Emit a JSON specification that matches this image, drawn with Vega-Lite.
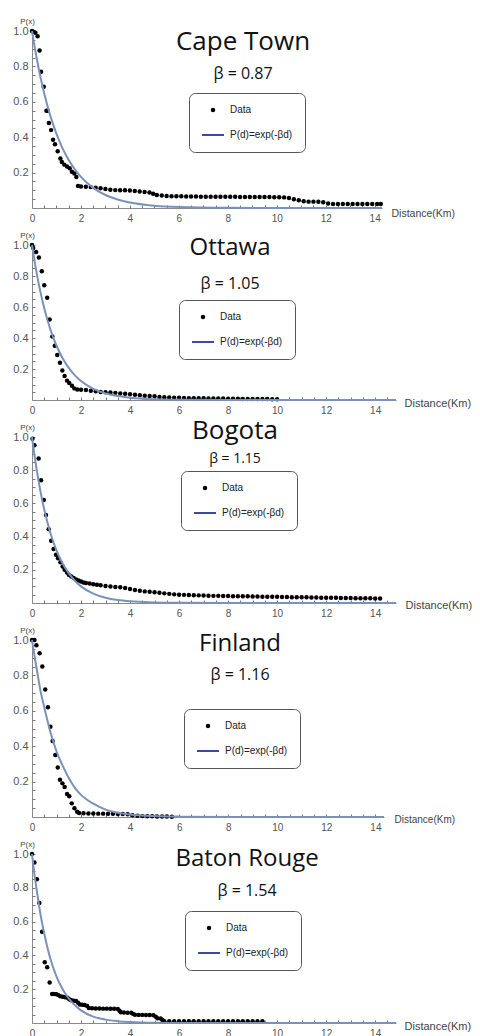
{
"$schema": "https://vega.github.io/schema/vega-lite/v6.json",
"padding": {"left": 12, "top": 17, "right": 2, "bottom": 2},
"spacing": 37,
"bounds": "flush",
"resolve": {"scale": {"x": "independent", "y": "independent", "shape": "independent", "size": "independent", "strokeWidth": "independent", "stroke": "independent"}, "legend": {"shape": "independent", "size": "independent", "strokeWidth": "independent", "stroke": "independent"}},
"datasets": {
"ct_pts": [{"d":0,"p":1.0},{"d":0.07,"p":0.995},{"d":0.14,"p":0.99},{"d":0.23,"p":0.97},{"d":0.31,"p":0.89},{"d":0.37,"p":0.77},{"d":0.48,"p":0.685},{"d":0.59,"p":0.55},{"d":0.64,"p":0.55},{"d":0.69,"p":0.48},{"d":0.78,"p":0.44},{"d":0.86,"p":0.385},{"d":0.94,"p":0.36},{"d":1.05,"p":0.32},{"d":1.16,"p":0.28},{"d":1.22,"p":0.26},{"d":1.32,"p":0.245},{"d":1.43,"p":0.235},{"d":1.54,"p":0.225},{"d":1.63,"p":0.205},{"d":1.73,"p":0.195},{"d":1.81,"p":0.175},{"d":1.88,"p":0.125},
{"d":2.0,"p":0.122},{"d":2.2,"p":0.12},{"d":2.4,"p":0.118},{"d":2.6,"p":0.115},{"d":2.8,"p":0.111},{"d":3.0,"p":0.107},{"d":3.2,"p":0.103},{"d":3.4,"p":0.101},{"d":3.6,"p":0.1},{"d":3.8,"p":0.1},{"d":4.0,"p":0.099},{"d":4.2,"p":0.096},{"d":4.4,"p":0.093},{"d":4.6,"p":0.091},{"d":4.8,"p":0.088},{"d":4.95,"p":0.08},{"d":5.1,"p":0.073},{"d":5.3,"p":0.07},{"d":5.5,"p":0.068},{"d":5.7,"p":0.067},{"d":5.9,"p":0.066},{"d":6.1,"p":0.066},{"d":6.3,"p":0.065},{"d":6.5,"p":0.065},{"d":6.7,"p":0.065},{"d":6.9,"p":0.064},{"d":7.1,"p":0.064},{"d":7.3,"p":0.064},{"d":7.5,"p":0.064},{"d":7.7,"p":0.063},{"d":7.9,"p":0.063},{"d":8.1,"p":0.063},{"d":8.3,"p":0.063},{"d":8.5,"p":0.062},{"d":8.7,"p":0.062},{"d":8.9,"p":0.062},{"d":9.1,"p":0.062},{"d":9.3,"p":0.062},{"d":9.5,"p":0.062},{"d":9.7,"p":0.062},{"d":9.9,"p":0.061},{"d":10.1,"p":0.061},{"d":10.3,"p":0.06},{"d":10.5,"p":0.056},{"d":10.7,"p":0.05},{"d":10.9,"p":0.044},{"d":11.1,"p":0.038},{"d":11.3,"p":0.036},{"d":11.5,"p":0.036},{"d":11.7,"p":0.035},{"d":11.9,"p":0.033},{"d":12.1,"p":0.025},{"d":12.3,"p":0.023},{"d":12.5,"p":0.023},{"d":12.7,"p":0.023},{"d":12.9,"p":0.023},{"d":13.1,"p":0.023},{"d":13.3,"p":0.023},{"d":13.5,"p":0.023},{"d":13.7,"p":0.023},{"d":13.9,"p":0.023},{"d":14.1,"p":0.023},{"d":14.25,"p":0.023}],
"ct_fit": [{"d":0,"p":1},{"d":0.1,"p":0.9167},{"d":0.2,"p":0.8403},{"d":0.35,"p":0.7375},{"d":0.5,"p":0.6473},{"d":0.75,"p":0.5207},{"d":1,"p":0.419},{"d":1.25,"p":0.3371},{"d":1.5,"p":0.2712},{"d":1.75,"p":0.2182},{"d":2,"p":0.1755},{"d":2.5,"p":0.1136},{"d":3,"p":0.0735},{"d":3.5,"p":0.0476},{"d":4,"p":0.0308},{"d":5,"p":0.0129},{"d":6,"p":0.0054},{"d":8,"p":0.0009},{"d":10,"p":0.0002},{"d":14.3,"p":0}],
"ot_pts": [{"d":0,"p":1.0},{"d":0.05,"p":0.98},{"d":0.17,"p":0.955},{"d":0.28,"p":0.92},{"d":0.4,"p":0.83},{"d":0.5,"p":0.74},{"d":0.62,"p":0.66},{"d":0.72,"p":0.52},{"d":0.83,"p":0.41},{"d":0.93,"p":0.35},{"d":1.03,"p":0.29},{"d":1.14,"p":0.24},{"d":1.24,"p":0.19},{"d":1.33,"p":0.155},{"d":1.43,"p":0.125},{"d":1.52,"p":0.11},{"d":1.63,"p":0.092},{"d":1.73,"p":0.075},
{"d":1.85,"p":0.068},{"d":2.0,"p":0.066},{"d":2.2,"p":0.064},{"d":2.4,"p":0.06},{"d":2.6,"p":0.056},{"d":2.8,"p":0.052},{"d":3.0,"p":0.05},{"d":3.2,"p":0.048},{"d":3.4,"p":0.046},{"d":3.6,"p":0.042},{"d":3.8,"p":0.04},{"d":4.0,"p":0.037},{"d":4.2,"p":0.034},{"d":4.4,"p":0.03},{"d":4.6,"p":0.028},{"d":4.8,"p":0.026},{"d":5.0,"p":0.024},{"d":5.2,"p":0.02},{"d":5.4,"p":0.018},{"d":5.6,"p":0.016},{"d":5.8,"p":0.015},{"d":6.0,"p":0.014},{"d":6.2,"p":0.013},{"d":6.4,"p":0.012},{"d":6.6,"p":0.012},{"d":6.8,"p":0.011},{"d":7.0,"p":0.011},{"d":7.2,"p":0.01},{"d":7.4,"p":0.01},{"d":7.6,"p":0.009},{"d":7.8,"p":0.009},{"d":8.0,"p":0.008},{"d":8.2,"p":0.008},{"d":8.4,"p":0.008},{"d":8.6,"p":0.007},{"d":8.8,"p":0.007},{"d":9.0,"p":0.007},{"d":9.2,"p":0.006},{"d":9.4,"p":0.006},{"d":9.6,"p":0.006},{"d":9.8,"p":0.005},{"d":10.0,"p":0.005}],
"ot_fit": [{"d":0,"p":1},{"d":0.1,"p":0.9003},{"d":0.2,"p":0.8106},{"d":0.35,"p":0.6925},{"d":0.5,"p":0.5916},{"d":0.75,"p":0.455},{"d":1,"p":0.3499},{"d":1.25,"p":0.2691},{"d":1.5,"p":0.207},{"d":1.75,"p":0.1592},{"d":2,"p":0.1225},{"d":2.5,"p":0.0724},{"d":3,"p":0.0429},{"d":3.5,"p":0.0253},{"d":4,"p":0.015},{"d":5,"p":0.0052},{"d":6,"p":0.0018},{"d":8,"p":0.0002},{"d":14.85,"p":0}],
"bo_pts": [{"d":0.02,"p":0.99},{"d":0.1,"p":0.95},{"d":0.27,"p":0.87},{"d":0.37,"p":0.74},{"d":0.48,"p":0.62},{"d":0.57,"p":0.53},{"d":0.68,"p":0.445},{"d":0.78,"p":0.375},{"d":0.88,"p":0.325},{"d":0.98,"p":0.29},{"d":1.06,"p":0.27},{"d":1.16,"p":0.245},{"d":1.25,"p":0.22},{"d":1.33,"p":0.2},{"d":1.43,"p":0.183},
{"d":1.5,"p":0.17},{"d":1.6,"p":0.16},{"d":1.7,"p":0.15},{"d":1.8,"p":0.142},{"d":1.9,"p":0.135},{"d":2.0,"p":0.13},{"d":2.1,"p":0.124},{"d":2.2,"p":0.12},{"d":2.35,"p":0.117},{"d":2.5,"p":0.113},{"d":2.65,"p":0.11},{"d":2.8,"p":0.107},{"d":3.0,"p":0.102},{"d":3.2,"p":0.099},{"d":3.4,"p":0.097},{"d":3.6,"p":0.095},{"d":3.8,"p":0.09},{"d":4.0,"p":0.085},{"d":4.2,"p":0.078},{"d":4.4,"p":0.074},{"d":4.6,"p":0.07},{"d":4.8,"p":0.068},{"d":5.0,"p":0.065},{"d":5.2,"p":0.062},{"d":5.4,"p":0.058},{"d":5.6,"p":0.055},{"d":5.8,"p":0.052},{"d":6.0,"p":0.05},{"d":6.2,"p":0.049},{"d":6.4,"p":0.048},{"d":6.6,"p":0.047},{"d":6.8,"p":0.046},{"d":7.0,"p":0.045},{"d":7.2,"p":0.044},{"d":7.4,"p":0.043},{"d":7.6,"p":0.043},{"d":7.8,"p":0.042},{"d":8.0,"p":0.042},{"d":8.2,"p":0.041},{"d":8.4,"p":0.041},{"d":8.6,"p":0.04},{"d":8.8,"p":0.04},{"d":9.0,"p":0.039},{"d":9.2,"p":0.039},{"d":9.4,"p":0.038},{"d":9.6,"p":0.038},{"d":9.8,"p":0.037},{"d":10.0,"p":0.037},{"d":10.2,"p":0.036},{"d":10.4,"p":0.036},{"d":10.6,"p":0.035},{"d":10.8,"p":0.035},{"d":11.0,"p":0.034},{"d":11.2,"p":0.034},{"d":11.4,"p":0.033},{"d":11.6,"p":0.033},{"d":11.8,"p":0.032},{"d":12.0,"p":0.032},{"d":12.2,"p":0.031},{"d":12.4,"p":0.031},{"d":12.6,"p":0.03},{"d":12.8,"p":0.03},{"d":13.0,"p":0.03},{"d":13.2,"p":0.029},{"d":13.4,"p":0.029},{"d":13.6,"p":0.028},{"d":13.8,"p":0.028},{"d":14.0,"p":0.027},{"d":14.2,"p":0.027}],
"bo_fit": [{"d":0,"p":1},{"d":0.1,"p":0.8914},{"d":0.2,"p":0.7945},{"d":0.35,"p":0.6687},{"d":0.5,"p":0.5627},{"d":0.75,"p":0.4221},{"d":1,"p":0.3166},{"d":1.25,"p":0.2375},{"d":1.5,"p":0.1782},{"d":1.75,"p":0.1336},{"d":2,"p":0.1003},{"d":2.5,"p":0.0564},{"d":3,"p":0.0317},{"d":3.5,"p":0.0179},{"d":4,"p":0.0101},{"d":5,"p":0.0032},{"d":6,"p":0.001},{"d":8,"p":0.0001},{"d":14.85,"p":0}],
"fi_pts": [{"d":0,"p":1.0},{"d":0.1,"p":1.0},{"d":0.18,"p":0.97},{"d":0.31,"p":0.925},{"d":0.42,"p":0.85},{"d":0.54,"p":0.72},{"d":0.65,"p":0.62},{"d":0.75,"p":0.51},{"d":0.84,"p":0.43},{"d":0.95,"p":0.35},{"d":1.05,"p":0.28},{"d":1.14,"p":0.21},{"d":1.24,"p":0.19},{"d":1.33,"p":0.17},{"d":1.43,"p":0.13},{"d":1.52,"p":0.117},{"d":1.62,"p":0.077},{"d":1.73,"p":0.05},{"d":1.84,"p":0.03},
{"d":1.92,"p":0.022},{"d":2.1,"p":0.021},{"d":2.3,"p":0.02},{"d":2.5,"p":0.02},{"d":2.7,"p":0.019},{"d":2.9,"p":0.019},{"d":3.1,"p":0.018},{"d":3.3,"p":0.018},{"d":3.5,"p":0.017},{"d":3.7,"p":0.017},{"d":3.9,"p":0.015},{"d":4.1,"p":0.01},{"d":4.3,"p":0.007},{"d":4.5,"p":0.005},{"d":4.7,"p":0.004},{"d":4.9,"p":0.004},{"d":5.1,"p":0.003},{"d":5.3,"p":0.003},{"d":5.5,"p":0.003},{"d":5.7,"p":0.002}],
"fi_fit": [{"d":0,"p":1},{"d":0.1,"p":0.91},{"d":0.2,"p":0.83},{"d":0.35,"p":0.71},{"d":0.5,"p":0.62},{"d":0.75,"p":0.48},{"d":1,"p":0.37},{"d":1.25,"p":0.29},{"d":1.5,"p":0.22},{"d":1.75,"p":0.165},{"d":2,"p":0.125},{"d":2.5,"p":0.075},{"d":3,"p":0.042},{"d":3.5,"p":0.024},{"d":4,"p":0.014},{"d":5,"p":0.005},{"d":6,"p":0.002},{"d":8,"p":0.0003},{"d":14.35,"p":0}],
"br_pts": [{"d":0,"p":1.0},{"d":0.1,"p":0.95},{"d":0.2,"p":0.85},{"d":0.3,"p":0.71},{"d":0.41,"p":0.54},{"d":0.52,"p":0.36},{"d":0.62,"p":0.33},{"d":0.72,"p":0.24},{"d":0.82,"p":0.172},
{"d":0.9,"p":0.172},{"d":1.0,"p":0.17},{"d":1.08,"p":0.165},{"d":1.15,"p":0.158},{"d":1.25,"p":0.155},{"d":1.35,"p":0.152},{"d":1.45,"p":0.15},{"d":1.52,"p":0.14},{"d":1.6,"p":0.134},{"d":1.7,"p":0.132},{"d":1.8,"p":0.13},{"d":1.88,"p":0.12},{"d":1.95,"p":0.11},{"d":2.05,"p":0.108},{"d":2.15,"p":0.107},{"d":2.25,"p":0.1},{"d":2.32,"p":0.089},{"d":2.45,"p":0.087},{"d":2.6,"p":0.086},{"d":2.75,"p":0.086},{"d":2.9,"p":0.085},{"d":3.05,"p":0.085},{"d":3.2,"p":0.084},{"d":3.35,"p":0.084},{"d":3.5,"p":0.083},{"d":3.57,"p":0.073},{"d":3.62,"p":0.063},{"d":3.75,"p":0.062},{"d":3.9,"p":0.061},{"d":4.05,"p":0.06},{"d":4.12,"p":0.054},{"d":4.2,"p":0.049},{"d":4.35,"p":0.048},{"d":4.5,"p":0.048},{"d":4.65,"p":0.047},{"d":4.8,"p":0.047},{"d":4.95,"p":0.046},{"d":5.05,"p":0.037},{"d":5.12,"p":0.028},{"d":5.25,"p":0.026},{"d":5.32,"p":0.018},{"d":5.4,"p":0.011},{"d":5.6,"p":0.01},{"d":5.8,"p":0.01},{"d":6.0,"p":0.01},{"d":6.2,"p":0.01},{"d":6.4,"p":0.01},{"d":6.6,"p":0.01},{"d":6.8,"p":0.01},{"d":7.0,"p":0.01},{"d":7.2,"p":0.01},{"d":7.4,"p":0.01},{"d":7.6,"p":0.01},{"d":7.8,"p":0.01},{"d":8.0,"p":0.01},{"d":8.2,"p":0.01},{"d":8.4,"p":0.01},{"d":8.6,"p":0.01},{"d":8.8,"p":0.01},{"d":9.0,"p":0.01},{"d":9.2,"p":0.01},{"d":9.4,"p":0.01}],
"br_fit": [{"d":0,"p":1},{"d":0.1,"p":0.88},{"d":0.2,"p":0.78},{"d":0.35,"p":0.64},{"d":0.5,"p":0.53},{"d":0.75,"p":0.38},{"d":1,"p":0.275},{"d":1.25,"p":0.2},{"d":1.5,"p":0.145},{"d":1.75,"p":0.105},{"d":2,"p":0.075},{"d":2.5,"p":0.038},{"d":3,"p":0.02},{"d":3.5,"p":0.011},{"d":4,"p":0.006},{"d":5,"p":0.0015},{"d":6,"p":0.0004},{"d":8,"p":0},{"d":14.85,"p":0}]
},
"vconcat": [
{
 "width": 350, "height": 177,
 "title": {"text": "Cape Town", "subtitle": "β = 0.87", "offset": -65, "dx": 36, "fontSize": 26, "subtitleFontSize": 16, "subtitlePadding": 11},
 "resolve": {"axis": {"x": "independent", "y": "independent"}},
 "layer": [
  {"data": {"name": "ct_pts"}, "mark": {"type": "point", "filled": true, "color": "#000000", "opacity": 1},
   "encoding": {
    "x": {"field": "d", "type": "quantitative", "scale": {"domain": [0, 14.3], "nice": false, "zero": false}, "axis": {"orient": "bottom", "values": [0,2,4,6,8,10,12,14], "title": "Distance(Km)", "titleX": 359, "titleY": 5, "titleFontSize": 10.5}},
    "y": {"field": "p", "type": "quantitative", "scale": {"domain": [0, 1], "nice": false}, "axis": {"orient": "left", "values": [0.2,0.4,0.6,0.8,1.0], "format": ".1f", "title": "P(x)"}},
    "shape": {"datum": "Data", "scale": {"domain": ["Data", "P(d)=exp(-βd)"], "range": ["circle", "stroke"]}, "legend": {"title": null, "legendX": 157, "legendY": 62}},
    "size": {"datum": "Data", "scale": {"type": "point", "padding": 0, "domain": ["Data", "P(d)=exp(-βd)"], "range": [20, 484]}, "legend": {"title": null, "legendX": 157, "legendY": 62}},
    "strokeWidth": {"datum": "Data", "scale": {"type": "point", "padding": 0, "domain": ["Data", "P(d)=exp(-βd)"], "range": [0, 2]}, "legend": {"title": null, "legendX": 157, "legendY": 62}},
    "stroke": {"datum": "Data", "scale": {"domain": ["Data", "P(d)=exp(-βd)"], "range": ["#000000", "#3d4aa3"]}, "legend": {"title": null, "legendX": 157, "legendY": 62}}
   }},
  {"data": {"name": "ct_fit"}, "mark": {"type": "line", "strokeWidth": 2, "color": "#7a92ba", "interpolate": "monotone"},
   "encoding": {
    "x": {"field": "d", "type": "quantitative", "axis": {"orient": "bottom", "values": [0,0.5,1,1.5,2,2.5,3,3.5,4,4.5,5,5.5,6,6.5,7,7.5,8,8.5,9,9.5,10,10.5,11,11.5,12,12.5,13,13.5,14], "labels": false, "domain": false, "ticks": true, "tickSize": -3, "title": null}},
    "y": {"field": "p", "type": "quantitative", "axis": {"orient": "left", "values": [0.05,0.1,0.15,0.2,0.25,0.3,0.35,0.4,0.45,0.5,0.55,0.6,0.65,0.7,0.75,0.8,0.85,0.9,0.95,1.0], "labels": false, "domain": false, "ticks": true, "tickSize": -3, "title": null}}
   }}
 ]
},
{
 "width": 364, "height": 155,
 "title": {"text": "Ottawa", "subtitle": "β = 1.05", "offset": -61, "dx": 16, "fontSize": 24, "subtitleFontSize": 16, "subtitlePadding": 16},
 "resolve": {"axis": {"x": "independent", "y": "independent"}},
 "layer": [
  {"data": {"name": "ot_pts"}, "mark": {"type": "point", "filled": true, "color": "#000000", "opacity": 1},
   "encoding": {
    "x": {"field": "d", "type": "quantitative", "scale": {"domain": [0, 14.85], "nice": false, "zero": false}, "axis": {"orient": "bottom", "values": [0,2,4,6,8,10,12,14], "title": "Distance(Km)", "titleX": 372, "titleY": 3, "titleFontSize": 11}},
    "y": {"field": "p", "type": "quantitative", "scale": {"domain": [0, 1], "nice": false}, "axis": {"orient": "left", "values": [0.2,0.4,0.6,0.8,1.0], "format": ".1f", "title": "P(x)"}},
    "shape": {"datum": "Data", "scale": {"domain": ["Data", "P(d)=exp(-βd)"], "range": ["circle", "stroke"]}, "legend": {"title": null, "legendX": 147, "legendY": 55}},
    "size": {"datum": "Data", "scale": {"type": "point", "padding": 0, "domain": ["Data", "P(d)=exp(-βd)"], "range": [20, 484]}, "legend": {"title": null, "legendX": 147, "legendY": 55}},
    "strokeWidth": {"datum": "Data", "scale": {"type": "point", "padding": 0, "domain": ["Data", "P(d)=exp(-βd)"], "range": [0, 2]}, "legend": {"title": null, "legendX": 147, "legendY": 55}},
    "stroke": {"datum": "Data", "scale": {"domain": ["Data", "P(d)=exp(-βd)"], "range": ["#000000", "#3d4aa3"]}, "legend": {"title": null, "legendX": 147, "legendY": 55}}
   }},
  {"data": {"name": "ot_fit"}, "mark": {"type": "line", "strokeWidth": 2, "color": "#7a92ba", "interpolate": "monotone"},
   "encoding": {
    "x": {"field": "d", "type": "quantitative", "axis": {"orient": "bottom", "values": [0,0.5,1,1.5,2,2.5,3,3.5,4,4.5,5,5.5,6,6.5,7,7.5,8,8.5,9,9.5,10,10.5,11,11.5,12,12.5,13,13.5,14,14.5], "labels": false, "domain": false, "ticks": true, "tickSize": -3, "title": null}},
    "y": {"field": "p", "type": "quantitative", "axis": {"orient": "left", "values": [0.05,0.1,0.15,0.2,0.25,0.3,0.35,0.4,0.45,0.5,0.55,0.6,0.65,0.7,0.75,0.8,0.85,0.9,0.95,1.0], "labels": false, "domain": false, "ticks": true, "tickSize": -3, "title": null}}
   }}
 ]
},
{
 "width": 364, "height": 166,
 "title": {"text": "Bogota", "subtitle": "β = 1.15", "offset": -43, "dx": 21, "fontSize": 26, "subtitleFontSize": 14, "subtitlePadding": 8},
 "resolve": {"axis": {"x": "independent", "y": "independent"}},
 "layer": [
  {"data": {"name": "bo_pts"}, "mark": {"type": "point", "filled": true, "color": "#000000", "opacity": 1},
   "encoding": {
    "x": {"field": "d", "type": "quantitative", "scale": {"domain": [0, 14.85], "nice": false, "zero": false}, "axis": {"orient": "bottom", "values": [0,2,4,6,8,10,12,14], "title": "Distance(Km)", "titleX": 373, "titleY": 2, "titleFontSize": 11}},
    "y": {"field": "p", "type": "quantitative", "scale": {"domain": [0, 1], "nice": false}, "axis": {"orient": "left", "values": [0.2,0.4,0.6,0.8,1.0], "format": ".1f", "title": "P(x)"}},
    "shape": {"datum": "Data", "scale": {"domain": ["Data", "P(d)=exp(-βd)"], "range": ["circle", "stroke"]}, "legend": {"title": null, "legendX": 149, "legendY": 34}},
    "size": {"datum": "Data", "scale": {"type": "point", "padding": 0, "domain": ["Data", "P(d)=exp(-βd)"], "range": [20, 484]}, "legend": {"title": null, "legendX": 149, "legendY": 34}},
    "strokeWidth": {"datum": "Data", "scale": {"type": "point", "padding": 0, "domain": ["Data", "P(d)=exp(-βd)"], "range": [0, 2]}, "legend": {"title": null, "legendX": 149, "legendY": 34}},
    "stroke": {"datum": "Data", "scale": {"domain": ["Data", "P(d)=exp(-βd)"], "range": ["#000000", "#3d4aa3"]}, "legend": {"title": null, "legendX": 149, "legendY": 34}}
   }},
  {"data": {"name": "bo_fit"}, "mark": {"type": "line", "strokeWidth": 2, "color": "#7a92ba", "interpolate": "monotone"},
   "encoding": {
    "x": {"field": "d", "type": "quantitative", "axis": {"orient": "bottom", "values": [0,0.5,1,1.5,2,2.5,3,3.5,4,4.5,5,5.5,6,6.5,7,7.5,8,8.5,9,9.5,10,10.5,11,11.5,12,12.5,13,13.5,14,14.5], "labels": false, "domain": false, "ticks": true, "tickSize": -3, "title": null}},
    "y": {"field": "p", "type": "quantitative", "axis": {"orient": "left", "values": [0.05,0.1,0.15,0.2,0.25,0.3,0.35,0.4,0.45,0.5,0.55,0.6,0.65,0.7,0.75,0.8,0.85,0.9,0.95,1.0], "labels": false, "domain": false, "ticks": true, "tickSize": -3, "title": null}}
   }}
 ]
},
{
 "width": 352, "height": 177,
 "title": {"text": "Finland", "subtitle": "β = 1.16", "offset": -57, "dx": 32, "fontSize": 24, "subtitleFontSize": 16, "subtitlePadding": 11},
 "resolve": {"axis": {"x": "independent", "y": "independent"}},
 "layer": [
  {"data": {"name": "fi_pts"}, "mark": {"type": "point", "filled": true, "color": "#000000", "opacity": 1},
   "encoding": {
    "x": {"field": "d", "type": "quantitative", "scale": {"domain": [0, 14.35], "nice": false, "zero": false}, "axis": {"orient": "bottom", "values": [0,2,4,6,8,10,12,14], "title": "Distance(Km)", "titleX": 362, "titleY": 2, "titleFontSize": 10}},
    "y": {"field": "p", "type": "quantitative", "scale": {"domain": [0, 1], "nice": false}, "axis": {"orient": "left", "values": [0.2,0.4,0.6,0.8,1.0], "format": ".1f", "title": "P(x)"}},
    "shape": {"datum": "Data", "scale": {"domain": ["Data", "P(d)=exp(-βd)"], "range": ["circle", "stroke"]}, "legend": {"title": null, "legendX": 152, "legendY": 69}},
    "size": {"datum": "Data", "scale": {"type": "point", "padding": 0, "domain": ["Data", "P(d)=exp(-βd)"], "range": [20, 484]}, "legend": {"title": null, "legendX": 152, "legendY": 69}},
    "strokeWidth": {"datum": "Data", "scale": {"type": "point", "padding": 0, "domain": ["Data", "P(d)=exp(-βd)"], "range": [0, 2]}, "legend": {"title": null, "legendX": 152, "legendY": 69}},
    "stroke": {"datum": "Data", "scale": {"domain": ["Data", "P(d)=exp(-βd)"], "range": ["#000000", "#3d4aa3"]}, "legend": {"title": null, "legendX": 152, "legendY": 69}}
   }},
  {"data": {"name": "fi_fit"}, "mark": {"type": "line", "strokeWidth": 2, "color": "#7a92ba", "interpolate": "monotone"},
   "encoding": {
    "x": {"field": "d", "type": "quantitative", "axis": {"orient": "bottom", "values": [0,0.5,1,1.5,2,2.5,3,3.5,4,4.5,5,5.5,6,6.5,7,7.5,8,8.5,9,9.5,10,10.5,11,11.5,12,12.5,13,13.5,14], "labels": false, "domain": false, "ticks": true, "tickSize": -3, "title": null}},
    "y": {"field": "p", "type": "quantitative", "axis": {"orient": "left", "values": [0.05,0.1,0.15,0.2,0.25,0.3,0.35,0.4,0.45,0.5,0.55,0.6,0.65,0.7,0.75,0.8,0.85,0.9,0.95,1.0], "labels": false, "domain": false, "ticks": true, "tickSize": -3, "title": null}}
   }}
 ]
},
{
 "width": 364, "height": 169,
 "title": {"text": "Baton Rouge", "subtitle": "β = 1.54", "offset": -59, "dx": 33, "fontSize": 24, "subtitleFontSize": 16, "subtitlePadding": 12},
 "resolve": {"axis": {"x": "independent", "y": "independent"}},
 "layer": [
  {"data": {"name": "br_pts"}, "mark": {"type": "point", "filled": true, "color": "#000000", "opacity": 1},
   "encoding": {
    "x": {"field": "d", "type": "quantitative", "scale": {"domain": [0, 14.85], "nice": false, "zero": false}, "axis": {"orient": "bottom", "values": [0,2,4,6,8,10,12,14], "title": "Distance(Km)", "titleX": 372, "titleY": 3, "titleFontSize": 11}},
    "y": {"field": "p", "type": "quantitative", "scale": {"domain": [0, 1], "nice": false}, "axis": {"orient": "left", "values": [0.2,0.4,0.6,0.8,1.0], "format": ".1f", "title": "P(x)"}},
    "shape": {"datum": "Data", "scale": {"domain": ["Data", "P(d)=exp(-βd)"], "range": ["circle", "stroke"]}, "legend": {"title": null, "legendX": 153, "legendY": 57}},
    "size": {"datum": "Data", "scale": {"type": "point", "padding": 0, "domain": ["Data", "P(d)=exp(-βd)"], "range": [20, 484]}, "legend": {"title": null, "legendX": 153, "legendY": 57}},
    "strokeWidth": {"datum": "Data", "scale": {"type": "point", "padding": 0, "domain": ["Data", "P(d)=exp(-βd)"], "range": [0, 2]}, "legend": {"title": null, "legendX": 153, "legendY": 57}},
    "stroke": {"datum": "Data", "scale": {"domain": ["Data", "P(d)=exp(-βd)"], "range": ["#000000", "#3d4aa3"]}, "legend": {"title": null, "legendX": 153, "legendY": 57}}
   }},
  {"data": {"name": "br_fit"}, "mark": {"type": "line", "strokeWidth": 2, "color": "#7a92ba", "interpolate": "monotone"},
   "encoding": {
    "x": {"field": "d", "type": "quantitative", "axis": {"orient": "bottom", "values": [0,0.5,1,1.5,2,2.5,3,3.5,4,4.5,5,5.5,6,6.5,7,7.5,8,8.5,9,9.5,10,10.5,11,11.5,12,12.5,13,13.5,14,14.5], "labels": false, "domain": false, "ticks": true, "tickSize": -3, "title": null}},
    "y": {"field": "p", "type": "quantitative", "axis": {"orient": "left", "values": [0.05,0.1,0.15,0.2,0.25,0.3,0.35,0.4,0.45,0.5,0.55,0.6,0.65,0.7,0.75,0.8,0.85,0.9,0.95,1.0], "labels": false, "domain": false, "ticks": true, "tickSize": -3, "title": null}}
   }}
 ]
}
],
"config": {
 "view": {"stroke": null},
 "font": "Liberation Sans",
 "axis": {"grid": false, "domainColor": "#8a8a8a", "tickColor": "#777777", "labelColor": "#555555", "labelFont": "Liberation Sans", "titleFont": "Liberation Sans", "titleFontWeight": "normal", "titleColor": "#444444", "ticks": false, "tickSize": 0, "labelPadding": 4},
 "axisX": {"labelFontSize": 10, "titleAlign": "left", "titleBaseline": "middle", "titleAngle": 0, "labelFlush": false, "labelPadding": 5},
 "axisY": {"labelFontSize": 11, "titleAngle": 0, "titleAlign": "center", "titleBaseline": "alphabetic", "titleX": -5, "titleY": -8, "titleFontSize": 8},
 "legend": {"orient": "none", "strokeColor": "#555555", "cornerRadius": 6, "padding": 12, "fillColor": "white", "rowPadding": 8, "labelFont": "Liberation Sans", "labelFontSize": 10, "labelColor": "#222222", "labelOffset": 5, "symbolOpacity": 1},
 "title": {"font": "Open Sans", "fontWeight": "normal", "color": "#111111", "subtitleFont": "Open Sans", "subtitleColor": "#111111", "anchor": "middle", "frame": "group"}
}
}
